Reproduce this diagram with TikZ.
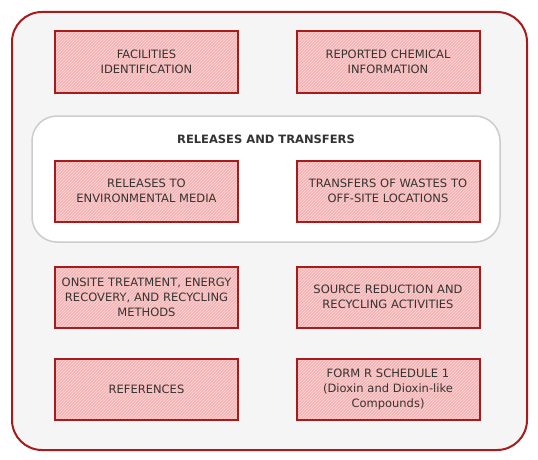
\documentclass[tikz,border=0pt]{standalone}
\usepackage{fontspec}
\setmainfont{DejaVu Sans}
\usepackage{xcolor}
\definecolor{rred}{HTML}{A61C1C}
\definecolor{ppink}{HTML}{F7B2B2}
\definecolor{ggray}{HTML}{F5F5F5}
\definecolor{ttext}{HTML}{333333}
\usepackage{tikz}
\usetikzlibrary{patterns}
\usetikzlibrary{positioning}

\begin{document}
\begin{tikzpicture}[x=1pt,y=-1pt,
  every node/.style={font=\fontsize{11.5}{15}\selectfont, text=ttext, align=center},
  secbox/.style={draw=rred, line width=2pt, preaction={fill=ppink},
    pattern=north east lines, pattern color=white!55!ppink,
    minimum width=183pt, minimum height=61pt, inner sep=1pt, text width=181pt}]
\useasboundingbox (0,0) rectangle (538,460);
\draw[rred, line width=2pt, fill=ggray, rounded corners=30pt] (12,12) rectangle (527,450);
\draw[black!20, line width=1.5pt, fill=white, rounded corners=25pt] (32,116) rectangle (500,242);
\node (rt) at (266,139) {\textbf{RELEASES AND TRANSFERS}};
\node[secbox] (fac) at (146.5,62) {FACILITIES\\IDENTIFICATION};
\node[secbox] (chem) at (388,62) {REPORTED CHEMICAL\\INFORMATION};
\node[secbox] (rel) at (146.5,191) {RELEASES TO\\ENVIRONMENTAL MEDIA};
\node[secbox] (trn) at (388,191) {TRANSFERS OF WASTES TO\\OFF-SITE LOCATIONS};
\node[secbox] (ons) at (146.5,297) {ONSITE TREATMENT, ENERGY\\RECOVERY, AND RECYCLING\\METHODS};
\node[secbox] (src) at (388,297) {SOURCE REDUCTION AND\\RECYCLING ACTIVITIES};
\node[secbox] (ref) at (146.5,389) {REFERENCES};
\node[secbox] (frm) at (388,389) {FORM R SCHEDULE 1\\(Dioxin and Dioxin-like\\Compounds)};
\end{tikzpicture}
\end{document}
